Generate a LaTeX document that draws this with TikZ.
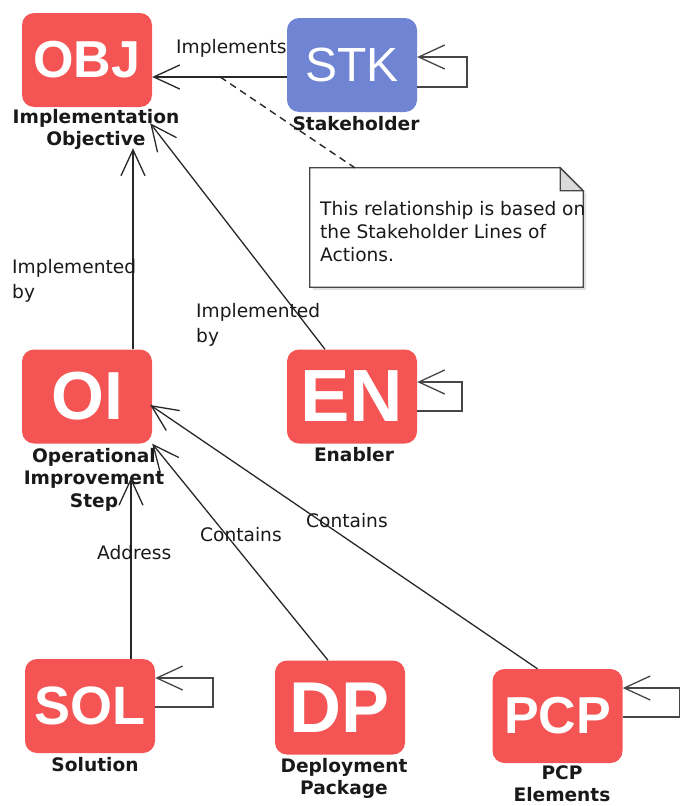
\documentclass[tikz,border=0pt]{standalone}
\usepackage{fontspec}
\setmainfont{DejaVu Sans}
\newfontfamily\boxfont{Liberation Sans}
\usetikzlibrary{arrows.meta,calc}
\definecolor{boxred}{RGB}{245,84,84}
\definecolor{boxblue}{RGB}{111,132,210}
\definecolor{edgegray}{RGB}{40,40,40}
\definecolor{loopgray}{RGB}{70,70,70}
\definecolor{txtgray}{RGB}{25,25,25}
\definecolor{foldgray}{RGB}{218,218,218}
\begin{document}
\begin{tikzpicture}[x=1pt,y=-1pt,
  elem/.style={rounded corners=12pt, minimum width=130pt, minimum height=94pt, inner sep=0pt, text=white, fill=boxred,
     font=\boxfont\bfseries\fontsize{#1}{#1}\selectfont},
  elem/.default=52,
  elemreg/.style={rounded corners=12pt, minimum width=130pt, minimum height=94pt, inner sep=0pt, text=white, fill=boxblue,
     font=\boxfont\fontsize{#1}{#1}\selectfont},
  lab/.style={font=\bfseries\fontsize{18.6}{22.5}\selectfont, align=center, text=txtgray, inner sep=0pt},
  elab/.style={font=\fontsize{18.6}{25}\selectfont, align=left, text=txtgray, inner sep=0pt, anchor=west},
  rel/.style={draw=edgegray, line width=1.3pt, -{Straight Barb[length=26pt,width=24pt]}},
  selfrel/.style={draw=loopgray, line width=1.8pt, -{Straight Barb[length=26pt,width=24pt,line width=1.3pt]}},
  notebox/.style={draw=loopgray, line width=1.3pt, fill=white},
]
\useasboundingbox (0,0) rectangle (680,806);

% element boxes
\node[elem=52] (obj) at (87,60) {OBJ};
\node[elemreg=48] (stk) at (352,65) {STK};
\node[elem=68] (oi) at (87,396.5) {OI};
\node[elem=74] (en) at (352,396.5) {EN};
\node[elem=54] (sol) at (90,706) {SOL};
\node[elem=72] (dp) at (340,707.5) {DP};
\node[elem=52] (pcp) at (557.5,716) {PCP};

% element labels
\node[lab] (objlab) at (96,129.5) {Implementation\\Objective};
\node[lab] (stklab) at (356,124) {Stakeholder};
\node[lab] (oilab) at (94,479.5) {Operational\\Improvement\\Step};
\node[lab] (enlab) at (354,455) {Enabler};
\node[lab] (sollab) at (95,765) {Solution};
\node[lab] (dplab) at (344,778.5) {Deployment\\Package};
\node[lab, font=\bfseries\fontsize{18.6}{21.5}\selectfont] (pcplab) at (562,783.5) {PCP\\Elements};

% note
\node[minimum width=273pt, minimum height=119pt, inner sep=0pt] (note) at (446.5,227.5) {};
\fill[black!12] ($(note.north west)+(3,3)$) -- ($(note.north east)+(-20,3)$) -- ($(note.north east)+(3,26)$) -- ($(note.south east)+(3,3)$) -- ($(note.south west)+(3,3)$) -- cycle;
\draw[notebox] (note.north west) -- ($(note.north east)+(-23,0)$) -- ($(note.north east)+(0,23)$) -- (note.south east) -- (note.south west) -- cycle;
\draw[notebox, fill=foldgray] ($(note.north east)+(-23,0)$) -- ($(note.north east)+(-23,23)$) -- ($(note.north east)+(0,23)$) -- cycle;
\node[elab, font=\fontsize{18.6}{23}\selectfont] (notetext) at (320,232) {This relationship is based on\\the Stakeholder Lines of\\Actions.};

% connectors
\draw[rel] ($(stk.west)+(0,12)$) -- ($(obj.east)+(0,17)$);
\draw[draw=edgegray, line width=1.4pt, dash pattern=on 7pt off 5pt] ($(obj.east)+(68,17)$) -- ($(note.north west)+(45,0)$);
\draw[rel] ($(oi.north)+(46,0)$) -- ($(obj.south)+(46,41)$);
\draw[rel] ($(en.north)+(-27,0)$) -- ($(obj.south east)+(-2,16)$);
\draw[rel] ($(sol.north)+(41,0)$) -- ($(oi.south)+(44,34)$);
\draw[rel] ($(dp.north)+(-12,0)$) -- (oi.south east);
\draw[rel] ($(pcp.north)+(-20,0)$) -- ($(oi.east)+(-2,8.5)$);

% self loops
\draw[selfrel] ($(stk.east)+(0,22)$) -| ($(stk.east)+(50,-8)$) -- ($(stk.east)+(0,-8)$);
\draw[selfrel] ($(en.east)+(0,14.5)$) -| ($(en.east)+(45,-14.5)$) -- ($(en.east)+(0,-14.5)$);
\draw[selfrel] ($(sol.east)+(0,1)$) -| ($(sol.east)+(58,-28)$) -- ($(sol.east)+(0,-28)$);
\draw[selfrel] ($(pcp.east)+(0,1)$) -| ($(pcp.east)+(57,-28)$) -- ($(pcp.east)+(0,-28)$);

% connector labels
\node[elab] (l1) at (176,48) {Implements};
\node[elab] (l2) at (12,280.5) {Implemented\\by};
\node[elab] (l3) at (196,325) {Implemented\\by};
\node[elab] (l4) at (97,553) {Address};
\node[elab] (l5) at (200,535) {Contains};
\node[elab] (l6) at (306,521) {Contains};
\end{tikzpicture}
\end{document}
